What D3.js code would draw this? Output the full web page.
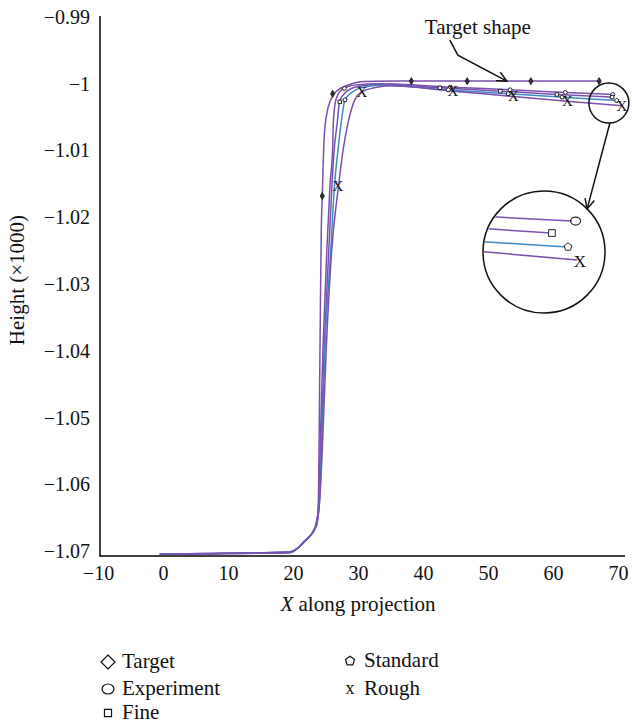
<!DOCTYPE html>
<html>
<head>
<meta charset="utf-8">
<script src="https://cdn.jsdelivr.net/npm/d3@7"></script>
<style>
  body { margin: 0; background: #fff; }
  text { font-family: "Liberation Serif", "DejaVu Serif", serif; fill: #111; }
</style>
</head>
<body>
<div id="chart"></div>
<script>
// ticks
var xTicks = [-10, 0, 10, 20, 30, 40, 50, 60, 70];
var yTicks = [-0.99, -1, -1.01, -1.02, -1.03, -1.04, -1.05, -1.06, -1.07];

// profiles [x, height]
var targetLine = [[-0.5,-1.0704],[19.5,-1.0702],[21.8,-1.0685],[23.2,-1.0668],[23.8,-1.0645],[23.95,-1.06],[24.05,-1.05],[24.2,-1.035],[24.35,-1.022],[24.5,-1.0168],[24.8,-1.008],[25.2,-1.0045],[25.8,-1.0024],[26.7,-1.0011],[28.2,-1.0003],[31,-0.99965],[35,-0.9996],[67.1,-0.9996]];
var experimentLine = [[-0.5,-1.0704],[19.5,-1.0702],[21.8,-1.0684],[23.3,-1.0667],[23.9,-1.064],[24.1,-1.058],[24.3,-1.05],[24.6,-1.04],[25.2,-1.025],[25.7,-1.015],[26.1,-1.0097],[26.2,-1.0059],[26.6,-1.0024],[27.5,-1.0009],[29.5,-1.0002],[33.4,-1.0000],[44.2,-1.0005],[53.4,-1.0009],[61.9,-1.0013],[69.2,-1.0016]];
var fineLine = [[-0.5,-1.0704],[19.5,-1.0701],[22,-1.0683],[23.4,-1.0665],[24,-1.063],[24.3,-1.055],[24.8,-1.04],[25.5,-1.025],[26.0,-1.015],[26.35,-1.0097],[26.8,-1.0059],[27.2,-1.0025],[28.2,-1.0012],[30,-1.0004],[33.4,-1.0001],[42.6,-1.0006],[51.9,-1.0011],[60.6,-1.0016],[69.1,-1.0020]];
var standardLine = [[-0.5,-1.0704],[19.5,-1.0701],[22.1,-1.0682],[23.5,-1.0664],[24.1,-1.062],[24.4,-1.055],[24.9,-1.04],[25.8,-1.025],[26.4,-1.015],[26.95,-1.0097],[27.4,-1.0059],[28.0,-1.0024],[29.5,-1.0010],[31.5,-1.0004],[33.4,-1.0002],[43.9,-1.0009],[53.1,-1.0015],[61.4,-1.0020],[69.8,-1.0025]];
var roughLine = [[-0.5,-1.0704],[19.5,-1.0701],[22.2,-1.0681],[23.6,-1.0662],[24.2,-1.061],[24.5,-1.055],[25.1,-1.04],[25.95,-1.025],[27.0,-1.0153],[27.74,-1.0097],[28.46,-1.0059],[29.5,-1.0024],[30.6,-1.0012],[32.5,-1.0006],[34.9,-1.0003],[44.6,-1.0011],[53.9,-1.0019],[62.2,-1.0026],[70.6,-1.0033]];

// markers along each profile
var targetMarks = [[24.5,-1.0168],[26.1,-1.0015],[38.2,-0.9996],[46.8,-0.9996],[56.6,-0.9996],[67.1,-0.9996]];
var experimentMarks = [[27.9,-1.0007],[44.2,-1.0005],[53.4,-1.0009],[61.9,-1.0013],[69.2,-1.0016]];
var fineMarks = [[27.2,-1.0027],[42.6,-1.0006],[51.9,-1.0011],[60.6,-1.0016],[69.1,-1.0020]];
var standardMarks = [[28.0,-1.0024],[43.9,-1.0009],[53.1,-1.0015],[61.4,-1.0020],[69.8,-1.0025]];
var roughMarks = [[26.9,-1.0153],[30.6,-1.0012],[44.6,-1.0011],[53.9,-1.0019],[62.2,-1.0026],[70.6,-1.0033]];

// magnified view of the line ends (inset units 0..100)
var insetExperiment = [[0,20.3],[73,24.2]];
var insetFine = [[0,30.5],[55.8,34.2]];
var insetStandard = [[0,41.5],[69.2,45.8]];
var insetRough = [[0,49.8],[77.5,56.7]];

var legendNames = ["Target", "Experiment", "Fine", "Standard", "Rough"];

var W = 632, H = 726;
var purple = "#7b4fae", blue = "#3d8cc2";
var fs = 20, fsl = 21;

var svg = d3.select("#chart").append("svg")
    .attr("width", W).attr("height", H);

var x = d3.scaleLinear().domain([-10, 71]).range([98, 624.5]);
var y = d3.scaleLinear().domain([-1.0707, -0.99]).range([556, 17]);

var minus = function(d) { return (d < 0 ? "\u2212" : "") + Math.abs(d); };

// axes (no tick marks, just lines + labels)
var gx = svg.append("g").attr("transform", "translate(0,556)")
    .call(d3.axisBottom(x).tickValues(xTicks).tickSize(0).tickPadding(10).tickFormat(minus));
gx.select(".domain").remove();
gx.selectAll("text").style("font-size", fs + "px").style("font-family", null);

var gy = svg.append("g").attr("transform", "translate(100,0)")
    .call(d3.axisLeft(y).tickValues(yTicks).tickSize(0).tickPadding(10).tickFormat(minus));
gy.select(".domain").remove();
gy.selectAll("text").style("font-size", fs + "px").style("font-family", null);

svg.append("line").attr("x1", 100).attr("x2", 100).attr("y1", 16).attr("y2", 556.5)
    .attr("stroke", "#000").attr("stroke-width", 1.5);
svg.append("line").attr("x1", 99.5).attr("x2", 625).attr("y1", 556).attr("y2", 556)
    .attr("stroke", "#000").attr("stroke-width", 1.5);

// axis titles
svg.append("text")
    .attr("transform", "translate(24,280) rotate(-90)")
    .attr("text-anchor", "middle")
    .style("font-size", fsl + "px")
    .text("Height (\u00d71000)");

var xl = svg.append("text").attr("x", 358).attr("y", 611)
    .attr("text-anchor", "middle").style("font-size", fsl + "px");
xl.append("tspan").style("font-style", "italic").text("X");
xl.append("tspan").text(" along projection");

// profiles
var line = d3.line().x(function(d) { return x(d[0]); }).y(function(d) { return y(d[1]); })
    .curve(d3.curveMonotoneX);

var series = [
    {name: "Target", pts: targetLine, marks: targetMarks, color: purple, shape: "diamond"},
    {name: "Experiment", pts: experimentLine, marks: experimentMarks, color: purple, shape: "circle"},
    {name: "Fine", pts: fineLine, marks: fineMarks, color: purple, shape: "square"},
    {name: "Standard", pts: standardLine, marks: standardMarks, color: blue, shape: "pentagon"},
    {name: "Rough", pts: roughLine, marks: roughMarks, color: purple, shape: "x"}
];

svg.selectAll(".profile").data(series).enter().append("path")
    .attr("class", "profile")
    .attr("d", function(d) { return line(d.pts); })
    .attr("fill", "none")
    .attr("stroke", function(d) { return d.color; })
    .attr("stroke-width", 1.5);

var pentagon = {
    draw: function(ctx, size) {
        var r = Math.sqrt(size / 2.4);
        for (var i = 0; i < 5; i++) {
            var a = -Math.PI / 2 + i * 2 * Math.PI / 5;
            if (i === 0) ctx.moveTo(r * Math.cos(a), r * Math.sin(a));
            else ctx.lineTo(r * Math.cos(a), r * Math.sin(a));
        }
        ctx.closePath();
    }
};
var shapeType = {diamond: d3.symbolDiamond, circle: d3.symbolCircle, square: d3.symbolSquare, pentagon: pentagon};

function drawMark(g, shape, px, py, size, fill, xsize, xtxt) {
    if (shape === "x") {
        g.append("text").attr("x", px).attr("y", py).attr("dy", "0.32em")
            .attr("text-anchor", "middle").style("font-size", xsize + "px").text(xtxt);
    } else {
        g.append("path").attr("transform", "translate(" + px + "," + py + ")")
            .attr("d", d3.symbol().type(shapeType[shape]).size(size)())
            .attr("fill", fill).attr("stroke", "#222").attr("stroke-width", 1);
    }
}

var gm = svg.append("g");
series.forEach(function(s) {
    s.marks.forEach(function(m) {
        drawMark(gm, s.shape, x(m[0]), y(m[1]), s.shape === "diamond" ? 14 : 12,
            s.shape === "diamond" ? "#333" : "#fff", 15, "X");
    });
});

// annotation "Target shape"
var tip = [x(52.9), y(-0.9996)];
svg.append("text").attr("x", tip[0] - 29).attr("y", tip[1] - 47)
    .attr("text-anchor", "middle").style("font-size", fsl + "px").text("Target shape");
svg.append("path")
    .attr("d", "M" + (tip[0] - 57) + "," + (tip[1] - 41) + "L" + (tip[0] - 49) + "," + (tip[1] - 26) + "L" + tip[0] + "," + tip[1])
    .attr("fill", "none").attr("stroke", "#111").attr("stroke-width", 1.5);
function arrowHead(tx, ty, ang) {
    var a1 = ang + Math.PI - 0.45, a2 = ang + Math.PI + 0.45, L = 11;
    return "M" + (tx + L * Math.cos(a1)) + "," + (ty + L * Math.sin(a1)) + "L" + tx + "," + ty +
        "L" + (tx + L * Math.cos(a2)) + "," + (ty + L * Math.sin(a2));
}
svg.append("path").attr("d", arrowHead(tip[0], tip[1], Math.atan2(26, 49)))
    .attr("fill", "none").attr("stroke", "#111").attr("stroke-width", 1.5);

// zoom circle at the line ends
var zc = [x(68.6), y(-1.00288)], zr = 20;
svg.append("circle").attr("cx", zc[0]).attr("cy", zc[1]).attr("r", zr)
    .attr("fill", "none").attr("stroke", "#111").attr("stroke-width", 1.5);

var bc = [544, 252], br = 61;
svg.append("circle").attr("cx", bc[0]).attr("cy", bc[1]).attr("r", br)
    .attr("fill", "#fff").attr("stroke", "#111").attr("stroke-width", 1.5);

var end = [bc[0] + br * Math.cos(-Math.PI / 4), bc[1] + br * Math.sin(-Math.PI / 4)];
var start = [zc[0] + 1, zc[1] + zr];
svg.append("line").attr("x1", start[0]).attr("y1", start[1]).attr("x2", end[0]).attr("y2", end[1])
    .attr("stroke", "#111").attr("stroke-width", 1.5);
svg.append("path").attr("d", arrowHead(end[0], end[1], Math.atan2(end[1] - start[1], end[0] - start[0])))
    .attr("fill", "none").attr("stroke", "#111").attr("stroke-width", 1.5);

// inset
var ix = d3.scaleLinear().domain([0, 100]).range([bc[0] - 60, bc[0] + 60]);
var iy = d3.scaleLinear().domain([0, 100]).range([bc[1] - 60, bc[1] + 60]);
svg.append("clipPath").attr("id", "insetClip").append("circle")
    .attr("cx", bc[0]).attr("cy", bc[1]).attr("r", br - 1);
var gi = svg.append("g").attr("clip-path", "url(#insetClip)");
var insetSeries = [
    {pts: insetExperiment, color: purple, shape: "circle"},
    {pts: insetFine, color: purple, shape: "square"},
    {pts: insetStandard, color: blue, shape: "pentagon"},
    {pts: insetRough, color: purple, shape: "x"}
];
var iline = d3.line().x(function(d) { return ix(d[0]); }).y(function(d) { return iy(d[1]); });
insetSeries.forEach(function(s) {
    gi.append("path").attr("d", iline(s.pts)).attr("fill", "none")
        .attr("stroke", s.color).attr("stroke-width", 1.5);
    var e = s.pts[s.pts.length - 1];
    if (s.shape === "circle") {
        gi.append("ellipse").attr("cx", ix(e[0]) + 4).attr("cy", iy(e[1])).attr("rx", 5).attr("ry", 4)
            .attr("fill", "none").attr("stroke", "#222").attr("stroke-width", 1.2);
    } else {
        drawMark(gi, s.shape, ix(e[0]) + (s.shape === "x" ? 3 : 1), iy(e[1]) + (s.shape === "x" ? 2 : 0),
            s.shape === "square" ? 45 : 40, "#fff", 17, "X");
    }
});

// legend
var legendPos = [[108, 662], [108, 689], [108, 713], [350, 661], [350, 689]];
var gl = svg.append("g");
legendNames.forEach(function(n, i) {
    var p = legendPos[i], s = series[i];
    if (s.shape === "x") {
        gl.append("text").attr("x", p[0]).attr("y", p[1]).attr("dy", "0.3em")
            .attr("text-anchor", "middle").style("font-size", "18px").text("x");
    } else if (s.shape === "circle") {
        gl.append("ellipse").attr("cx", p[0]).attr("cy", p[1]).attr("rx", 6).attr("ry", 5)
            .attr("fill", "none").attr("stroke", "#111").attr("stroke-width", 1.2);
    } else if (s.shape === "diamond") {
        gl.append("path").attr("transform", "translate(" + p + ")")
            .attr("d", "M0,-7L7,0L0,7L-7,0Z").attr("fill", "none").attr("stroke", "#111").attr("stroke-width", 1.2);
    } else {
        gl.append("path").attr("transform", "translate(" + p + ")")
            .attr("d", d3.symbol().type(shapeType[s.shape]).size(s.shape === "square" ? 50 : 55)())
            .attr("fill", "none").attr("stroke", "#111").attr("stroke-width", 1.2);
    }
    gl.append("text").attr("x", p[0] + 14).attr("y", p[1] + 6)
        .style("font-size", fsl + "px").text(n);
});
</script>
</body>
</html>
